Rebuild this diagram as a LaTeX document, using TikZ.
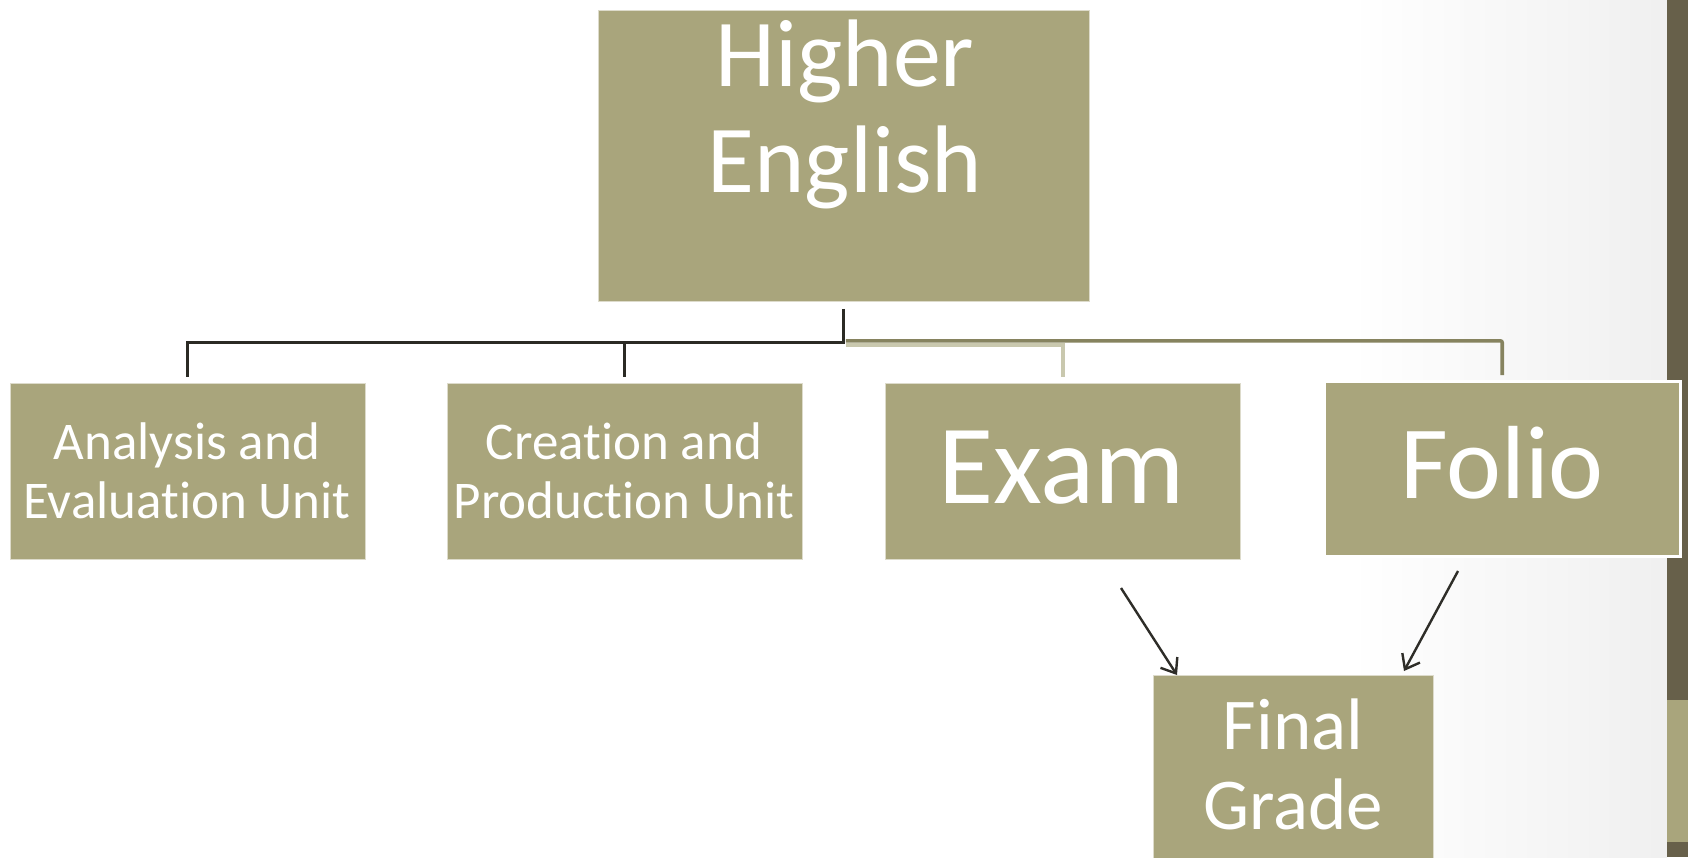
\documentclass[tikz,border=0pt]{standalone}
\usepackage{fontspec}
\setmainfont[Ligatures=NoCommon]{Carlito}
\usetikzlibrary{arrows.meta,calc}
\definecolor{boxc}{HTML}{A9A57C}
\definecolor{stripd}{HTML}{67604A}
\definecolor{lineblk}{HTML}{2B2A24}
\definecolor{lineol}{HTML}{86835F}
\definecolor{linelt}{HTML}{C9C8AE}
\definecolor{arrc}{HTML}{2E2D28}
\begin{document}
\begin{tikzpicture}[x=1pt,y=-1pt,
  box/.style={fill=boxc, draw=white!60!boxc, line width=0.8pt, inner sep=0pt, anchor=north west},
  txt/.style={text=white, inner sep=0pt, anchor=base, align=center},
  blk/.style={draw=lineblk, line width=3pt},
  olv/.style={draw=lineol, line width=3.6pt, rounded corners=2pt},
  lgt/.style={draw=linelt, line width=3.6pt},
  arr/.style={draw=arrc, line width=2.4pt, -{Straight Barb[length=13pt,width=20pt]}}]
% background
\useasboundingbox (0,0) rectangle (1688,857);
\fill[white] (0,0) rectangle (1688,857);
\shade[left color=white, right color=black!6] (1350,0) rectangle (1667,857);
\fill[stripd] (1667,0) rectangle (1688,857);
\fill[boxc] (1667,700) rectangle (1688,842);
% boxes
\node[box, minimum width=491pt, minimum height=291pt] (he) at (598,10) {};
\node[box, minimum width=355pt, minimum height=176pt] (ae) at (10,383) {};
\node[box, minimum width=355pt, minimum height=176pt] (cp) at (447,383) {};
\node[box, minimum width=355pt, minimum height=176pt] (ex) at (885,383) {};
\node[box, draw=white, line width=2.5pt, minimum width=356pt, minimum height=175pt] (fo) at (1323,380) {};
\node[box, minimum width=280pt, minimum height=190pt] (fg) at (1153,675) {};
% texts (anchor base = baseline of the last line)
\node[txt, font=\fontsize{96}{106}\selectfont] (het) at (845,192) {Higher\\English};
\node[txt, font=\fontsize{53}{59}\selectfont] (aet) at (187,518) {Analysis and\\Evaluation Unit};
\node[txt, font=\fontsize{113}{113}\selectfont] (ext) at (1062,503) {Exam};
\node[txt, font=\fontsize{53}{59}\selectfont] (cpt) at (624,518) {Creation and\\Production Unit};
\node[txt, font=\fontsize{104}{104}\selectfont] (fot) at (1502,498) {Folio};
\node[txt, font=\fontsize{73}{80}\selectfont] (fgt) at (1293,829) {Final\\Grade};
% connectors
\draw[lgt, shorten >=6pt] ($(he.south)+(2,43)$) -| (ex.north);
\draw[olv, shorten >=5pt] ($(he.south)+(2,39)$) -| (fo.north);
\draw[blk, shorten <=7pt, shorten >=6pt] (he.south) -- ++(0,41) -| (ae.north);
\draw[blk, shorten >=6pt] (cp.north |- 0,342) -- (cp.north);
% arrows
\coordinate (exa) at (1121,588);
\coordinate (foa) at (1458,571);
\draw[arr] (exa) -- ($(fg.north west)+(24,0)$);
\draw[arr] (foa) -- ($(fg.north west)+(251,-4)$);
\end{tikzpicture}
\end{document}
